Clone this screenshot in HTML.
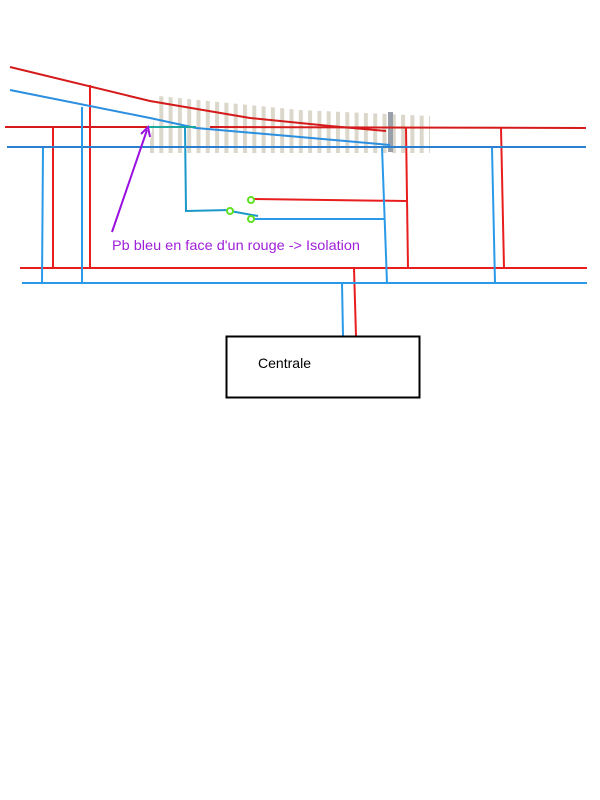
<!DOCTYPE html>
<html><head><meta charset="utf-8"><style>html,body{margin:0;padding:0;background:#fff;}svg{display:block}</style></head>
<body>
<svg width="600" height="800" viewBox="0 0 600 800" xmlns="http://www.w3.org/2000/svg">
<defs>
<pattern id="sl" x="150" y="0" width="9.3" height="800" patternUnits="userSpaceOnUse">
<rect x="0" y="0" width="4" height="800" fill="#dcd7cb"/>
</pattern>
<clipPath id="tc"><polygon points="158,96 300,110 430,116 430,153 148,153"/></clipPath>
</defs>
<rect x="145" y="90" width="290" height="65" fill="url(#sl)" clip-path="url(#tc)"/>
<rect x="388" y="112" width="5" height="40" fill="#9aa0aa"/>
<g fill="none" stroke-width="2">
<polyline points="10,67 150,101 250,118 330,126 386,131" stroke="#d41a1a"/>
<line x1="5" y1="127" x2="147" y2="127" stroke="#d41a1a"/>
<line x1="210" y1="127" x2="586" y2="128" stroke="#d41a1a"/>
<line x1="90" y1="85" x2="90" y2="268" stroke="#e81e1e"/>
<line x1="53" y1="127" x2="53" y2="268" stroke="#e81e1e"/>
<line x1="406" y1="128" x2="408" y2="268" stroke="#e81e1e"/>
<line x1="501" y1="128" x2="504" y2="268" stroke="#e81e1e"/>
<line x1="20" y1="268" x2="587" y2="268" stroke="#e81e1e"/>
<line x1="354" y1="268" x2="356" y2="336" stroke="#e81e1e"/>
<line x1="252" y1="199" x2="406" y2="201" stroke="#e81e1e"/>
<polyline points="10,90 150,118 196,128 300,137 390,145" stroke="#2a8fe0"/>
<line x1="7" y1="147" x2="586" y2="147" stroke="#2a7fd0"/>
<line x1="82" y1="107" x2="82" y2="283" stroke="#2a9ae8"/>
<line x1="43" y1="148" x2="42" y2="283" stroke="#2a9ae8"/>
<line x1="382" y1="147" x2="387" y2="283" stroke="#2a9ae8"/>
<line x1="492" y1="148" x2="495" y2="283" stroke="#2a9ae8"/>
<line x1="22" y1="283" x2="587" y2="283" stroke="#2a9ae8"/>
<line x1="342" y1="283" x2="343" y2="336" stroke="#2a9ae8"/>
<line x1="252" y1="219" x2="384" y2="219" stroke="#2a9ae8"/>
<line x1="148" y1="127" x2="196" y2="127" stroke="#1aa8a0"/>
<polyline points="185,127 186,211 230,210" stroke="#1a98c8"/>
<line x1="230" y1="211" x2="258" y2="216" stroke="#1a98c8"/>
<line x1="112" y1="232" x2="147" y2="130" stroke="#9a10e0"/>
<polyline points="141,134 148,127 150,137" stroke="#9a10e0"/>
<rect x="226.5" y="336.5" width="193" height="61" stroke="#000"/>
</g>
<g fill="#fff" stroke="#5ee020" stroke-width="2">
<circle cx="230" cy="211" r="3"/><circle cx="251" cy="200" r="3"/><circle cx="251" cy="219" r="3"/>
</g>
<text x="112" y="250" font-family="Liberation Sans, sans-serif" font-size="14" fill="#a020d8" textLength="248" lengthAdjust="spacingAndGlyphs">Pb bleu en face d'un rouge -&gt; Isolation</text>
<text x="258" y="368" font-family="Liberation Sans, sans-serif" font-size="14" fill="#000" textLength="53" lengthAdjust="spacingAndGlyphs">Centrale</text>
</svg>
</body></html>
